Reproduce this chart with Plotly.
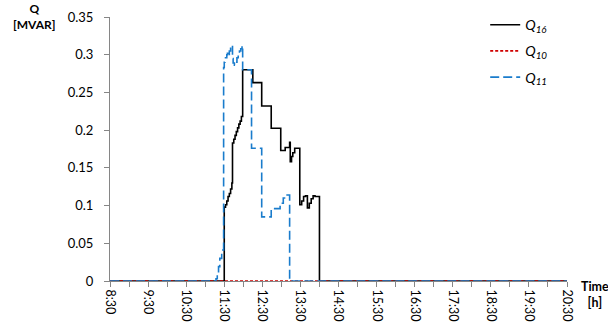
import plotly.graph_objects as go

# ---- data (clock time "H:MM", value in MVAR) ----
q16_times = ["8:30", "11:30", "11:32", "11:34", "11:36", "11:38", "11:40", "11:42", "11:43", "11:45",
             "11:47", "11:49", "11:51", "11:53", "11:55", "11:57", "11:59", "12:15", "12:29", "12:44",
             "12:59", "13:06", "13:13", "13:14", "13:16", "13:18", "13:21", "13:29", "13:32", "13:35",
             "13:38", "13:41", "13:44", "13:47", "13:50", "13:53", "14:00", "20:30"]
q16_values = [0, 0.098, 0.101, 0.106, 0.112, 0.116, 0.122, 0.130, 0.183, 0.188,
              0.193, 0.198, 0.203, 0.208, 0.212, 0.218, 0.280, 0.263, 0.232, 0.2025,
              0.173, 0.177, 0.184, 0.158, 0.165, 0.170, 0.176, 0.101, 0.106, 0.112,
              0.113, 0.097, 0.103, 0.109, 0.113, 0.112, 0, 0]

q10_times = ["8:30", "20:30"]
q10_values = [0, 0]

q11_times = ["8:30", "11:17", "11:19", "11:21", "11:23", "11:26", "11:29", "11:30", "11:31", "11:32",
             "11:34", "11:35", "11:36", "11:38", "11:40", "11:41", "11:43", "11:44", "11:46", "11:48",
             "11:50", "11:52", "11:54", "11:56", "11:58", "11:59", "12:13", "12:29", "12:44", "12:58",
             "13:03", "13:07", "13:13", "20:30"]
q11_values = [0, 0.003, 0.010, 0.019, 0.030, 0.041, 0.283, 0.290, 0.293, 0.296,
              0.300, 0.302, 0.298, 0.305, 0.311, 0.312, 0.295, 0.289, 0.286, 0.290,
              0.296, 0.300, 0.305, 0.308, 0.312, 0.280, 0.176, 0.085, 0.096, 0.103,
              0.110, 0.114, 0, 0]

tick_labels = ["8:30", "9:30", "10:30", "11:30", "12:30", "13:30", "14:30",
               "15:30", "16:30", "17:30", "18:30", "19:30", "20:30"]
y_ticks = [0, 0.05, 0.1, 0.15, 0.2, 0.25, 0.3, 0.35]
y_tick_labels = ["0", "0.05", "0.1", "0.15", "0.2", "0.25", "0.3", "0.35"]


def to_hours(t):
    h, m = t.split(":")
    return int(h) + int(m) / 60.0


FONT = "Lato, 'Liberation Sans', sans-serif"

fig = go.Figure()
fig.add_trace(go.Scatter(x=[to_hours(t) for t in q16_times], y=q16_values, mode="lines",
                         line=dict(color="#000000", width=1.6, shape="hv"),
                         name="<i>Q<sub>16</sub></i>", legendgroup="a"))
fig.add_trace(go.Scatter(x=[to_hours(t) for t in q10_times], y=q10_values, mode="lines",
                         line=dict(color="#d00000", width=1.6, dash="3px,2px", shape="hv"),
                         name="<i>Q<sub>10</sub></i>", legendgroup="b"))
fig.add_trace(go.Scatter(x=[to_hours(t) for t in q11_times], y=q11_values, mode="lines",
                         line=dict(color="#1a7ccc", width=1.6, dash="9px,4px", shape="hv"),
                         name="<i>Q<sub>11</sub></i>", legendgroup="c"))

tick_vals = [to_hours(t) for t in tick_labels]

fig.update_layout(
    width=608, height=325,
    margin=dict(l=110, r=41, t=17, b=44, autoexpand=False),
    paper_bgcolor="white", plot_bgcolor="white",
    font=dict(family=FONT, size=12, color="#000000"),
    showlegend=True,
    legend=dict(x=0.821, y=1.03, xanchor="left", yanchor="top",
                font=dict(family=FONT, size=14, color="#000000"),
                bgcolor="rgba(0,0,0,0)", tracegroupgap=5, itemwidth=30),
    xaxis=dict(range=[tick_vals[0], tick_vals[-1]], tickmode="array", tickvals=tick_vals,
               ticktext=tick_labels, tickangle=90, showgrid=False, zeroline=False,
               showline=True, linecolor="#868686", linewidth=1, automargin=False,
               ticks="outside", ticklen=5, tickcolor="#868686",
               minor=dict(ticks="outside", dtick=0.5, tick0=8.5, ticklen=5, tickcolor="#868686",
                          showgrid=False),
               tickfont=dict(family=FONT, size=12.5)),
    yaxis=dict(range=[0, 0.35], tickmode="array", tickvals=y_ticks, ticktext=y_tick_labels,
               showgrid=False, zeroline=False, showline=True, linecolor="#868686", linewidth=1,
               ticks="outside", ticklen=5, tickcolor="#868686", ticklabelstandoff=8,
               automargin=False, tickfont=dict(family=FONT, size=13)),
    annotations=[
        dict(text="<b>Q</b><br><b>[MVAR]</b>", xref="paper", yref="paper", x=-0.165, y=1.07,
             xanchor="center", yanchor="top", showarrow=False, align="center",
             font=dict(family=FONT, size=12)),
        dict(text="<b>Time</b><br><b>[h]</b>", xref="paper", yref="paper", x=1.0255, y=0.015,
             xanchor="left", yanchor="top", showarrow=False, align="center",
             font=dict(family=FONT, size=12.5)),
    ],
)

fig.write_html("out.html", config={"displayModeBar": False},
               post_script="document.body.style.margin='0';document.body.style.padding='0';")
